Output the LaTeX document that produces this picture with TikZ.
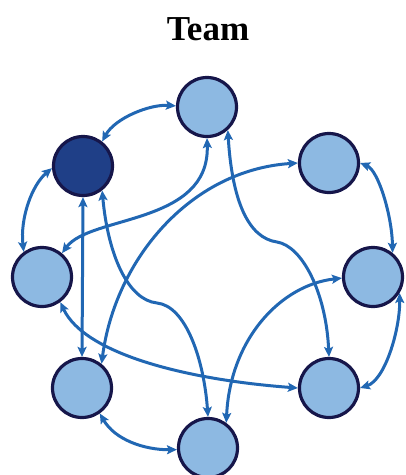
\documentclass[tikz,border=0pt]{standalone}
\usepackage{fontspec}
\setmainfont{Liberation Serif}
\usetikzlibrary{arrows.meta}
\definecolor{lightfill}{RGB}{141,185,226}
\definecolor{darkfill}{RGB}{31,63,135}
\definecolor{rim}{RGB}{22,22,74}
\definecolor{arrowblue}{RGB}{33,103,179}
\begin{document}
\begin{tikzpicture}[x=1pt,y=-1pt,
  member/.style={circle,draw=rim,line width=3.2pt,fill=lightfill,minimum size=59pt,inner sep=0pt},
  leader/.style={member,fill=darkfill},
  link/.style={draw=arrowblue,line width=3pt,
    {Stealth[length=10pt,width=9pt,inset=2pt]}-{Stealth[length=10pt,width=9pt,inset=2pt]}},
  plain/.style={draw=arrowblue,line width=3pt}]
\useasboundingbox (0,0) rectangle (406,475);
\node[font=\fontsize{35}{40}\selectfont\bfseries,anchor=base] (title) at (208,40) {Team};
\node[member] (T) at (207,107) {};
\node[leader] (D) at (83,166) {};
\node[member] (RT) at (329,163) {};
\node[member] (L) at (42,277) {};
\node[member] (R) at (373,277) {};
\node[member] (BL) at (82,388) {};
\node[member] (BR) at (329,388) {};
\node[member] (B) at (208,448) {};
\coordinate (m1) at (157,303);
\coordinate (m2) at (277,242);
% connectors
\draw[link] (D.52) .. controls (115,118) and (150,104) .. (T.178);
\draw[link] (D.184) .. controls (32,185) and (20,218) .. (L.126);
\draw[link] (L.50) .. controls (90,215) and (210,225) .. (T.270);
\draw[link] (D.270) -- (BL.90);
\draw[link] (D.-52) .. controls (108,255) and (128,300) .. (m1)
  .. controls (186,306) and (204,360) .. (B.90);
\draw[link] (L.-54) .. controls (85,355) and (190,380) .. (BR.180);
\draw[link] (BL.-55) .. controls (115,440) and (145,450) .. (B.183);
\draw[link] (BL.51) .. controls (115,260) and (190,170) .. (RT.180);
\draw[link] (T.-48) .. controls (232,200) and (248,238) .. (m2)
  .. controls (302,246) and (326,292) .. (BR.90);
\draw[link] (RT.0) .. controls (378,170) and (392,215) .. (R.51);
\draw[link] (R.-31) .. controls (400,330) and (385,380) .. (BR.0);
\draw[link] (B.54) .. controls (230,340) and (280,285) .. (R.182);
\end{tikzpicture}
\end{document}
